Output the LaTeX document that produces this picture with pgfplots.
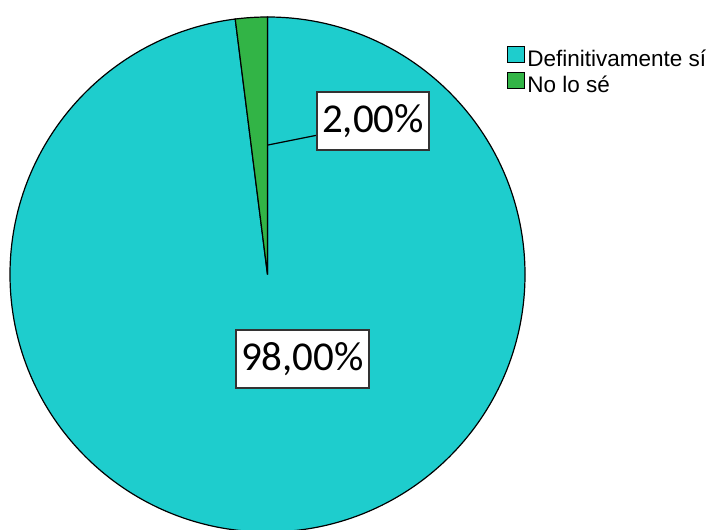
\documentclass[border=0pt]{standalone}
\usepackage{fontspec}
\setmainfont{Liberation Sans}
\newfontfamily\carlito{Carlito}
\usepackage{pgfplots}
\usepackage{pgfplotstable}
\pgfplotsset{compat=1.18}
\definecolor{pcyan}{HTML}{1ECDCD}
\definecolor{pgreen}{HTML}{32B446}

% percentages of each answer
\pgfplotstableread{
cat value
0 98
1 2
}\piedata
\pgfplotstablegetelem{0}{value}\of\piedata \let\va\pgfplotsretval
\pgfplotstablegetelem{1}{value}\of\piedata \let\vb\pgfplotsretval
% first slice runs clockwise from 12 o'clock, the second fills the rest
\pgfmathsetmacro\angS{90}
\pgfmathsetmacro\angA{90-3.6*\va}
\pgfmathsetmacro\angB{\angA-3.6*\vb}

\begin{document}
\begin{tikzpicture}
\useasboundingbox (0,0) rectangle (715pt,530pt);
\begin{axis}[
    at={(0,0)}, anchor=south west,
    scale only axis,
    width=715pt, height=530pt,
    xmin=0, xmax=715, ymin=0, ymax=530,
    hide axis,
    clip=true,
    legend style={
        at={(axis cs:504,486)}, anchor=north west,
        draw=none, fill=none,
        font=\fontsize{22.5}{24}\selectfont,
        nodes={inner xsep=2pt, inner ysep=0pt, text height=16pt, text depth=5pt},
        row sep=1pt,
    },
    legend cell align=left,
    legend image code/.code={\draw[#1] (1pt,-2pt) rectangle (18pt,14pt);},
]
    \addlegendimage{fill=pcyan, draw=black, line width=1.1pt}
    \addlegendentry{Definitivamente sí}
    \addlegendimage{fill=pgreen, draw=black, line width=1.1pt}
    \addlegendentry{No lo sé}

    \filldraw[fill=pcyan, draw=black, line width=1.2pt]
        (axis cs:267.5,255.5) -- ++(\angS:257.5pt)
        arc[start angle=\angS, end angle=\angA, radius=257.5pt] -- cycle;
    \filldraw[fill=pgreen, draw=black, line width=1.2pt]
        (axis cs:267.5,255.5) -- ++(\angA:257.5pt)
        arc[start angle=\angA, end angle=\angB, radius=257.5pt] -- cycle;

    \draw[black, line width=1.2pt] (axis cs:268,385) -- (axis cs:318,395);
    \node[draw=black!80, fill=white, line width=1.2pt, inner sep=0pt,
          minimum width=112pt, minimum height=58pt,
          font=\carlito\fontsize{41}{41}\selectfont]
        at (axis cs:373,409) {2,00\%};
    \node[draw=black!80, fill=white, line width=1.2pt, inner sep=0pt,
          minimum width=133pt, minimum height=58pt,
          font=\carlito\fontsize{41}{41}\selectfont]
        at (axis cs:302.5,171) {98,00\%};
\end{axis}
\end{tikzpicture}
\end{document}
